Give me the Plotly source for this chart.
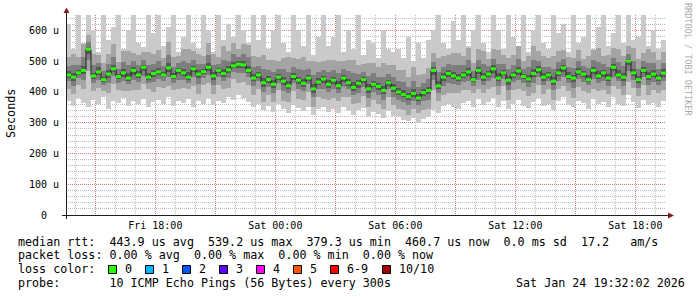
import numpy as np
import pandas as pd
import plotly.graph_objects as go

# ---------------- data (values in microseconds) ----------------
START = "2026-01-23 13:32:02"
END = "2026-01-24 19:32:02"
STEP_MIN = 15

median_us = [
    455, 448, 462, 470, 539, 452, 465, 440, 458, 475, 450, 462, 445, 470, 455, 480, 448, 460,
    465, 455, 478, 450, 470, 462, 448, 475, 458, 466, 480, 452, 470, 460, 472, 485, 490, 488, 470,
    445, 455, 430, 440, 425, 448, 435, 420, 450, 438, 428, 445, 410, 432, 442, 425,
    438, 420, 445, 430, 415, 428, 440, 410, 425, 418, 405, 430, 412,
    400, 392, 385, 395, 380, 398, 405,
    470, 420, 448, 460, 452, 445,
    455, 465, 440, 470, 448, 458, 475, 445, 462, 438, 455, 468, 450, 442, 460, 472, 448, 455, 435, 462,
    478, 450, 445, 465, 458, 440, 470, 452, 462, 445, 480, 455, 448, 500, 462, 440, 470, 450, 458, 445, 461,
]

ping_max_us = [
    620, 540, 650, 560, 650, 600, 530, 650, 570, 610, 650, 540, 600, 650, 560, 545, 650, 590,
    650, 550, 610, 650, 530, 580, 650, 560, 540, 650, 600, 530, 650, 570, 620, 580, 650, 600, 560,
    650, 570, 650, 540, 600, 650, 560, 530, 650, 600, 550, 650, 520, 580, 650, 550,
    580, 650, 530, 600, 540, 650, 520, 570, 560, 510, 600, 540, 530,
    540, 510, 580, 500, 560, 510, 570,
    600, 650, 560, 540, 630, 570,
    650, 550, 600, 650, 560, 530, 650, 600, 540, 650, 580, 550, 650, 530, 600, 650, 560, 540, 650, 590,
    620, 530, 650, 560, 580, 650, 540, 610, 650, 550, 590, 650, 560, 650, 570, 580, 650, 550, 600, 540, 570,
]

ping_min_us = [
    370, 355, 380, 365, 350, 375, 360, 385, 345, 370, 365, 380, 355, 372, 360, 378, 350, 368,
    375, 360, 382, 355, 370, 365, 378, 350, 372, 362, 380, 358, 370, 365, 385, 375, 390, 380, 368,
    350, 362, 340, 355, 335, 360, 345, 330, 358, 348, 338, 352, 325, 345, 350, 335,
    345, 330, 352, 338, 325, 340, 348, 320, 335, 328, 315, 338, 322,
    318, 310, 305, 315, 300, 312, 320,
    340, 330, 355, 360, 350, 345,
    365, 372, 350, 378, 358, 368, 380, 352, 370, 345, 362, 375, 355, 348, 368, 380, 355, 362, 340, 370,
    382, 358, 350, 372, 365, 345, 378, 360, 368, 352, 385, 362, 355, 390, 368, 348, 375, 358, 365, 350, 370,
]

# distance of the 2nd / 9th ping from the median
smoke2_up = [
    60, 75, 50, 85, 45, 70, 55, 55, 65, 80, 48, 72, 88, 58, 66, 50, 82, 62,
    70, 55, 85, 62, 48, 78, 92, 58, 66, 52, 80, 70, 45, 88, 60, 74, 50, 68, 84,
    72, 58, 90, 65, 80, 52, 76, 95, 60, 70, 85, 55, 92, 66, 58, 78,
    65, 82, 55, 74, 90, 60, 50, 85, 70, 62, 88, 58, 75,
    70, 80, 62, 85, 75, 60, 72,
    55, 90, 68, 60, 75, 82,
    62, 78, 55, 70, 85, 50, 66, 90, 58, 72, 64, 80, 52, 76, 88, 60, 68, 54, 82, 70,
    58, 62, 64, 72, 50, 78, 66, 92, 56, 74, 62, 84, 70, 48, 80, 66, 58, 88, 72, 60, 68,
]
smoke2_dn = [
    45, 55, 40, 60, 70, 48, 52, 38, 62, 50, 44, 58, 42, 65, 50, 55, 40, 60,
    50, 42, 58, 45, 62, 48, 40, 55, 65, 44, 52, 60, 46, 50, 58, 42, 62, 55, 48,
    55, 45, 62, 50, 58, 42, 65, 52, 48, 60, 55, 44, 60, 50, 66, 52,
    58, 50, 62, 48, 55, 65, 52, 60, 50, 58, 62, 48, 56,
    55, 50, 60, 52, 48, 58, 62,
    65, 50, 58, 62, 55, 48,
    50, 58, 45, 62, 52, 48, 60, 55, 42, 65, 50, 58, 46, 54, 62, 48, 56, 44, 60, 52,
    58, 46, 64, 50, 55, 42, 60, 48, 56, 52, 62, 45, 58, 68, 50, 54, 46, 60, 52, 48, 55,
]
# distance of the 3rd / 8th ping from the median
smoke3_up = [
    30, 38, 25, 42, 22, 35, 30, 28, 32, 40, 24, 36, 44, 29, 33, 25, 41, 31,
    35, 28, 42, 31, 24, 39, 45, 29, 33, 26, 40, 35, 22, 44, 30, 37, 25, 34, 42,
    36, 29, 45, 32, 40, 26, 38, 45, 30, 35, 42, 28, 45, 33, 29, 39,
    32, 41, 28, 37, 45, 30, 25, 42, 35, 31, 44, 29, 37,
    35, 40, 31, 42, 37, 30, 36,
    28, 45, 34, 30, 37, 41,
    31, 39, 28, 35, 42, 25, 33, 45, 29, 36, 32, 40, 26, 38, 44, 30, 34, 27, 41, 35,
    29, 31, 32, 36, 25, 39, 33, 45, 28, 37, 31, 42, 35, 24, 40, 33, 29, 44, 36, 30, 34,
]
smoke3_dn = [
    20, 28, 18, 30, 35, 22, 25, 16, 30, 24, 20, 28, 19, 32, 22, 27, 18, 29,
    24, 19, 28, 21, 30, 22, 18, 26, 32, 20, 25, 29, 21, 24, 28, 19, 30, 26, 22,
    26, 21, 30, 24, 28, 19, 32, 25, 22, 29, 26, 20, 28, 24, 32, 25,
    28, 24, 30, 22, 26, 32, 25, 29, 24, 28, 30, 22, 27,
    26, 24, 29, 25, 22, 28, 30,
    32, 24, 28, 30, 26, 22,
    24, 28, 21, 30, 25, 22, 29, 26, 19, 32, 24, 28, 21, 26, 30, 22, 27, 20, 29, 25,
    28, 21, 31, 24, 26, 19, 29, 22, 27, 25, 30, 21, 28, 33, 24, 26, 21, 29, 25, 22, 26,
]
# distance of the 4th / 7th ping from the median
smoke4_up = [
    12, 15, 9, 14, 8, 11, 16, 10, 12, 14, 8, 13, 15, 10, 12, 9, 14, 11,
    12, 10, 15, 11, 8, 13, 16, 10, 12, 9, 14, 12, 8, 15, 11, 13, 9, 12, 14,
    13, 10, 16, 12, 14, 9, 13, 16, 11, 12, 15, 10, 16, 12, 10, 14,
    11, 14, 10, 13, 16, 11, 9, 15, 12, 11, 15, 10, 13,
    12, 14, 11, 15, 13, 10, 12,
    10, 16, 12, 11, 13, 14,
    11, 14, 10, 12, 15, 9, 12, 16, 10, 13, 11, 14, 9, 13, 15, 11, 12, 10, 14, 12,
    10, 15, 11, 13, 9, 14, 12, 16, 10, 13, 11, 15, 12, 8, 14, 12, 10, 15, 13, 11, 12,
]
smoke4_dn = [
    9, 12, 8, 13, 15, 10, 11, 7, 13, 10, 9, 12, 8, 14, 10, 12, 8, 13,
    10, 8, 12, 9, 13, 10, 8, 11, 14, 9, 11, 13, 9, 10, 12, 8, 13, 11, 10,
    11, 9, 13, 10, 12, 8, 14, 11, 10, 12, 11, 9, 12, 10, 14, 11,
    12, 10, 13, 10, 11, 14, 11, 12, 10, 12, 13, 10, 12,
    11, 10, 12, 11, 10, 12, 13,
    14, 10, 12, 13, 11, 10,
    10, 12, 9, 13, 11, 10, 12, 11, 8, 14, 10, 12, 9, 11, 13, 10, 12, 9, 12, 11,
    12, 9, 13, 10, 11, 8, 12, 10, 12, 11, 13, 9, 12, 14, 10, 11, 9, 12, 11, 10, 11,
]

y_tick_vals = [0, 100, 200, 300, 400, 500, 600]
y_tick_text = ["0\u00a0\u00a0", "100 u", "200 u", "300 u", "400 u", "500 u", "600 u"]
x_tick_vals = ["2026-01-23 15:00", "2026-01-23 18:00", "2026-01-23 21:00", "2026-01-24 00:00",
               "2026-01-24 03:00", "2026-01-24 06:00", "2026-01-24 09:00", "2026-01-24 12:00",
               "2026-01-24 15:00", "2026-01-24 18:00"]
x_tick_text = ["", "Fri 18:00", "", "Sat 00:00", "", "Sat 06:00", "", "Sat 12:00", "", "Sat 18:00"]

legend_line1 = "median rtt:  443.9 us avg  539.2 us max  379.3 us min  460.7 us now  0.0 ms sd  17.2   am/s"
legend_line2 = "packet loss: 0.00 % avg  0.00 % max  0.00 % min  0.00 % now"
legend_line4 = "probe:       10 ICMP Echo Pings (56 Bytes) every 300s"
stamp_text = "Sat Jan 24 19:32:02 2026"
loss_labels = ["0", "1", "2", "3", "4", "5", "6-9", "10/10"]
loss_colors = ["#26ff00", "#00b8ff", "#0059ff", "#5e00ff", "#ff00ff", "#ff5500", "#ff0000", "#a10000"]

# ---------------- layout geometry (pixels) ----------------
W, H = 697, 297
L, R, T, B = 66, 31, 15, 82
PW, PH = W - L - R, H - T - B
MONO = "DejaVu Sans Mono"


def fx(p):
    return (p - L) / PW


def fy(p):
    return (T + PH - p) / PH


def nb(s):
    return s.replace(" ", "\u00a0")


n = len(median_us)
t0 = pd.Timestamp(START)
step = pd.Timedelta(minutes=STEP_MIN)
edges = [t0 + k * step for k in range(n + 1)]
centers = [t0 + (k + 0.5) * step for k in range(n)]
step_ms = STEP_MIN * 60 * 1000

med = np.array(median_us, float)
bands = [
    (np.array(ping_min_us, float), np.array(ping_max_us, float), "#cacaca"),
    (med - np.array(smoke2_dn), med + np.array(smoke2_up), "#a4a4a4"),
    (med - np.array(smoke3_dn), med + np.array(smoke3_up), "#7e7e7e"),
    (med - np.array(smoke4_dn), med + np.array(smoke4_up), "#585858"),
]

fig = go.Figure()
for lo, hi, col in bands:
    fig.add_trace(go.Bar(x=centers, y=hi - lo, base=lo, width=step_ms,
                         marker=dict(color=col, line=dict(width=0)), hoverinfo="skip"))

fig.add_trace(go.Scatter(x=edges, y=list(med) + [med[-1]], mode="lines",
                         line=dict(color="#202020", width=1, shape="hv"), hoverinfo="skip"))
gx, gy = [], []
for k in range(n):
    gx += [edges[k], edges[k + 1], None]
    gy += [med[k], med[k], None]
fig.add_trace(go.Scatter(x=gx, y=gy, mode="lines", line=dict(color=loss_colors[0], width=3),
                         connectgaps=False, hoverinfo="skip"))

MAJ = "rgba(222,79,79,0.6)"
MIN = "rgba(143,143,143,0.6)"
fig.update_layout(
    width=W, height=H, margin=dict(l=L, r=R, t=T, b=B, pad=0),
    paper_bgcolor="white", plot_bgcolor="white", showlegend=False,
    barmode="overlay", bargap=0,
    font=dict(family=MONO, size=11.7, color="black"),
    xaxis=dict(type="date", range=[START, END], tickmode="array", tickvals=x_tick_vals,
               ticktext=x_tick_text, showgrid=True, gridcolor=MAJ, griddash="1px,1px", gridwidth=1,
               zeroline=False, showline=False, ticks="", ticklabelstandoff=3,
               tickfont=dict(family=MONO, size=10, color="black"),
               minor=dict(dtick=3600000, tick0="2026-01-23 14:00:00", showgrid=True, gridcolor=MIN,
                          griddash="1px,1px", gridwidth=1),
               fixedrange=True),
    yaxis=dict(range=[0, 650], tickmode="array", tickvals=y_tick_vals, ticktext=y_tick_text,
               showgrid=True, gridcolor=MAJ, griddash="1px,1px", gridwidth=1, zeroline=False,
               showline=False, ticks="", ticklabelstandoff=6,
               tickfont=dict(family=MONO, size=10, color="black"),
               minor=dict(dtick=20, tick0=0, showgrid=True, gridcolor=MIN, griddash="1px,1px", gridwidth=1),
               fixedrange=True),
)

shapes = []
AX = "#1f1f1f"
ARROW = "#801f1f"
# axes
shapes.append(dict(type="line", xref="paper", yref="paper", x0=fx(62), x1=fx(668), y0=fy(215.5), y1=fy(215.5),
                   line=dict(color=AX, width=1), layer="above"))
shapes.append(dict(type="line", xref="paper", yref="paper", x0=fx(66.5), x1=fx(66.5), y0=fy(219), y1=fy(12),
                   line=dict(color=AX, width=1), layer="above"))
# arrows
shapes.append(dict(type="path", xref="paper", yref="paper",
                   path=f"M {fx(63.5)},{fy(13)} L {fx(69.5)},{fy(13)} L {fx(66.5)},{fy(7.5)} Z",
                   fillcolor=ARROW, line=dict(width=0), layer="above"))
shapes.append(dict(type="path", xref="paper", yref="paper",
                   path=f"M {fx(668)},{fy(212.5)} L {fx(668)},{fy(218.5)} L {fx(674)},{fy(215.5)} Z",
                   fillcolor=ARROW, line=dict(width=0), layer="above"))

annotations = []
LEG_X = 16
rows_y = [241.8, 255.2, 269.2, 282.5]


def text_at(x, y, s, size=11.7, color="black", angle=0, xanchor="left"):
    annotations.append(dict(xref="paper", yref="paper", x=fx(x), y=fy(y), text=nb(s), showarrow=False,
                            xanchor=xanchor, yanchor="middle", textangle=angle,
                            font=dict(family=MONO, size=size, color=color)))


text_at(LEG_X, rows_y[0], legend_line1)
text_at(LEG_X, rows_y[1], legend_line2)
text_at(LEG_X, rows_y[2], "loss color:")
text_at(LEG_X, rows_y[3], legend_line4)
text_at(514, rows_y[3], stamp_text)

sq_x = [108, 145, 182, 219, 256, 293, 330, 382]
for xs, lab, col in zip(sq_x, loss_labels, loss_colors):
    shapes.append(dict(type="rect", xref="paper", yref="paper", x0=fx(xs + 0.5), x1=fx(xs + 8.5),
                       y0=fy(265.5), y1=fy(273.5), fillcolor=col, line=dict(color="black", width=1)))
    text_at(xs + 15, rows_y[2], lab)

text_at(11, 114, "Seconds", angle=-90, xanchor="center")
text_at(688, 59, "RRDTOOL / TOBI OETIKER", size=8.5, color="#aaaaaa", angle=90, xanchor="center")

fig.update_layout(shapes=shapes, annotations=annotations)
fig.write_html("out.html")
